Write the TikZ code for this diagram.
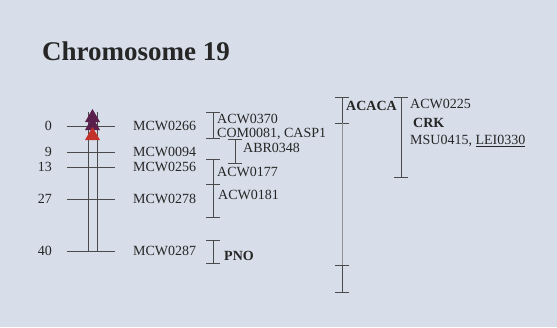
\documentclass[tikz,border=0pt]{standalone}
\usepackage{fontspec}
\setmainfont{Liberation Serif}
\usetikzlibrary{calc}
\definecolor{slide}{HTML}{D7DEE9}
\definecolor{ink}{HTML}{262626}
\definecolor{rule}{HTML}{4A4A4A}
\definecolor{plum}{HTML}{5A1F4C}
\definecolor{brick}{HTML}{C4322C}
\tikzset{
  maplabel/.style={anchor=west, inner sep=0pt, text=ink, text height=9pt, text depth=0pt,
    font=\fontsize{14}{15}\selectfont},
  genelabel/.style={maplabel, font=\fontsize{14}{15}\selectfont\bfseries},
  cmlabel/.style={anchor=east, inner sep=0pt, text=ink, text height=9pt, text depth=0pt,
    font=\fontsize{14}{15}\selectfont},
  maprule/.style={draw=rule, line width=0.8pt},
}
% I-bar: x, top, bottom
\newcommand{\ibar}[3]{%
  \draw[maprule] (#1,#2) -- (#1,#3);
  \draw[maprule] (#1-7,#2) -- ++(14,0);
  \draw[maprule] (#1-7,#3) -- ++(14,0);
}

\begin{document}
\begin{tikzpicture}[x=1pt, y=-1pt]
      \fill[slide] (0,0) rectangle (557,327);
      \useasboundingbox (0,0) rectangle (557,327);
      \node[anchor=base west, inner sep=0pt, text=ink, font=\fontsize{27}{29}\selectfont\bfseries]
        (title) at (42,60) {Chromosome 19};
      % linkage group
      \draw[maprule] (88,112) -- (88,251);
      \draw[maprule] (97,112) -- (97,251);
      \foreach \cm/\marker/\yy in {0/MCW0266/126, 9/MCW0094/152, 13/MCW0256/167, 27/MCW0278/199, 40/MCW0287/251}{
        \draw[maprule] (67,\yy) -- (115,\yy);
        \node[cmlabel] (cm\cm) at (52,\yy) {\cm};
        \node[maplabel] (\marker) at (133,\yy) {\marker};
        }
      \fill[plum] (92.5,109) -- (100,122) -- (85,122) -- cycle;
      \fill[plum] (92.5,117) -- (100,130) -- (85,130) -- cycle;
      \fill[brick] (92.5,127) -- (100,140) -- (85,140) -- cycle;
      % comparative positions
      \ibar{213}{112}{138}
      \ibar{235}{139}{163}
      \ibar{213}{159}{217}
      \draw[maprule] (206,184) -- ++(14,0);
      \ibar{213}{240}{263}
      \node[maplabel] (acw0370) at (217,119) {ACW0370};
      \node[maplabel] (com0081) at (217,133) {COM0081, CASP1};
      \node[maplabel] (abr0348) at (243,148) {ABR0348};
      \node[maplabel] (acw0177) at (217,172) {ACW0177};
      \node[maplabel] (acw0181) at (218,195) {ACW0181};
      \node[genelabel] (pno) at (224,256) {PNO};
      \ibar{342}{97}{123}
      \draw[rule!60, line width=0.6pt] (342,123) -- (342,265);
      \ibar{342}{265}{292}
      \ibar{401}{97}{177}
      \node[genelabel] (acaca) at (346,106) {ACACA};
      \node[maplabel] (acw0225) at (410,104) {ACW0225};
      \node[genelabel] (crk) at (413,123) {CRK};
      \node[maplabel] (msu0415) at (410,140) {MSU0415, \underline{LEI0330}};
    \end{tikzpicture}
\end{document}
